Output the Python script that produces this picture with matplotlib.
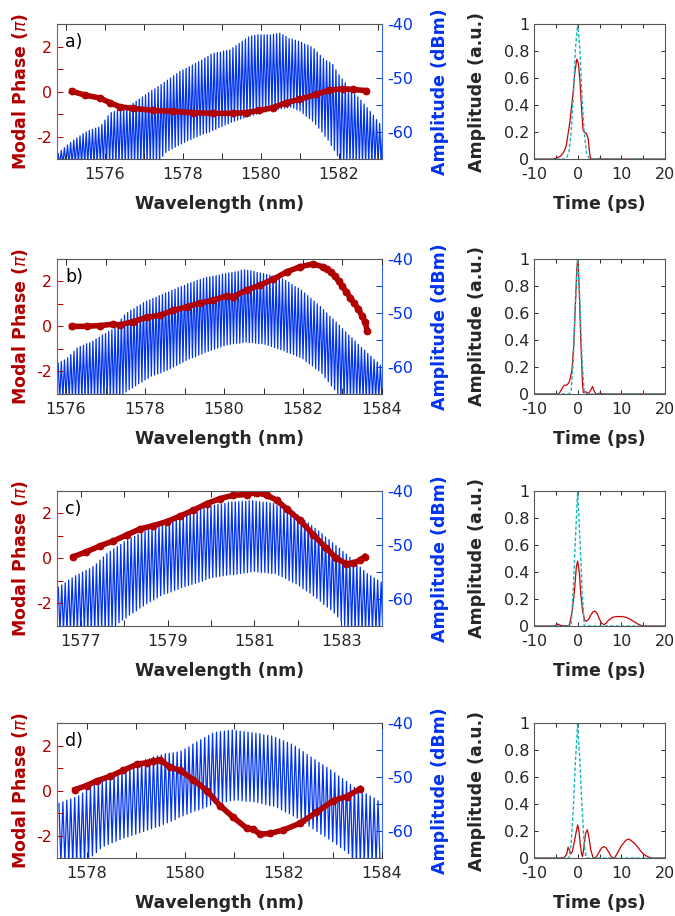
import numpy as np
import matplotlib.pyplot as plt
from matplotlib.ticker import MultipleLocator, FuncFormatter

plt.rcParams['font.family'] = 'DejaVu Sans'
plt.rcParams['axes.unicode_minus'] = False

RED = '#b00000'
BLUE = '#0033ee'
GREY = '#262626'

# spacing of the comb lines (nm)
step = 0.08

# ---- panel a) spectrum: peak / trough level of every comb line (dBm)
a_start = 1574.80
a_up = [-64.0, -63.4, -62.9, -62.4, -61.9, -61.5, -61.1, -60.7, -60.3, -60.0,
        -59.7, -59.5, -59.3, -59.1, -58.6, -57.8, -57.0, -56.4, -56.2, -56.0,
        -55.8, -55.6, -55.4, -55.0, -54.7, -54.3, -53.9, -53.5, -53.1, -52.7,
        -52.3, -52.0, -51.6, -51.2, -50.8, -50.4, -50.0, -49.6, -49.2, -48.8,
        -48.5, -48.2, -47.9, -47.6, -47.3, -47.0, -46.7, -46.3, -46.0, -45.6,
        -45.4, -45.3, -45.2, -45.0, -44.9, -44.8, -44.4, -44.0, -43.6, -43.2,
        -42.8, -42.4, -42.2, -42.1, -42.0, -42.0, -42.0, -42.0, -42.0, -41.9,
        -41.8, -41.7, -42.0, -42.3, -42.7, -42.8, -43.0, -43.2, -43.4, -43.7,
        -43.9, -44.2, -44.6, -45.2, -45.8, -46.4, -46.8, -47.1, -47.5, -48.5,
        -49.4, -50.2, -50.9, -51.6, -52.2, -52.9, -53.5, -54.1, -54.8, -55.5,
        -56.2, -56.9, -57.7, -58.4, -59.0]
a_lo = [-66, -66, -66, -66, -66, -66, -66, -66, -66, -66,
        -66, -66, -66, -66, -66, -66, -66, -66, -66, -66,
        -66, -66, -66, -66, -66, -66, -66, -66, -66, -66,
        -66, -66, -66, -64.5, -63.8, -63.4, -63.1, -62.8, -62.5, -62.2,
        -61.9, -61.6, -61.4, -61.1, -60.9, -60.6, -60.4, -60.2, -60.0, -59.7,
        -59.5, -59.2, -59.0, -58.7, -58.5, -58.2, -58.0, -57.8, -57.6, -57.4,
        -57.2, -57.1, -56.9, -56.7, -56.6, -56.4, -56.3, -56.1, -56.0, -55.9,
        -55.8, -55.7, -55.6, -55.5, -55.4, -55.6, -55.9, -56.1, -56.6, -57.1,
        -57.5, -58.0, -58.6, -59.3, -60.0, -60.8, -61.5, -62.5, -63.4, -64.4,
        -66, -66, -66, -66, -66, -66, -66, -66, -66, -66,
        -66, -66, -66, -66, -66]
a_ph_wl = [1575.15, 1575.49, 1575.87, 1576.13, 1576.38, 1576.72, 1577.23,
           1577.74, 1578.26, 1578.77, 1579.28, 1579.62, 1579.96, 1580.30,
           1580.64, 1580.98, 1581.41, 1581.75, 1582.09, 1582.35, 1582.69]
a_ph = [0.01, -0.16, -0.29, -0.50, -0.68, -0.75, -0.84, -0.88, -0.94, -0.97,
        -0.97, -0.94, -0.84, -0.72, -0.50, -0.35, -0.13, 0.06, 0.12, 0.09, 0.04]

# ---- panel b)
b_start = 1575.80
b_up = [-59.3, -59.0, -58.7, -58.3, -57.7, -57.1, -56.5, -56.2, -56.0, -55.7,
        -55.5, -55.2, -54.8, -54.5, -54.1, -53.8, -53.4, -53.1, -52.6, -51.8,
        -51.1, -50.4, -49.9, -49.5, -49.2, -48.8, -48.5, -48.1, -47.8, -47.6,
        -47.3, -47.1, -46.8, -46.6, -46.3, -46.1, -45.8, -45.6, -45.3, -45.1,
        -44.9, -44.6, -44.4, -44.2, -44.0, -43.8, -43.6, -43.4, -43.3, -43.2,
        -43.1, -43.0, -42.8, -42.7, -42.6, -42.5, -42.4, -42.3, -42.1, -42.0,
        -42.1, -42.2, -42.3, -42.5, -42.6, -42.7, -42.9, -43.0, -43.2, -43.3,
        -43.5, -43.7, -44.0, -44.3, -44.7, -45.1, -45.4, -45.8, -46.3, -46.8,
        -47.3, -47.8, -48.3, -48.8, -49.4, -50.0, -50.6, -51.1, -51.7, -52.3,
        -52.9, -53.5, -54.1, -54.6, -55.2, -55.8, -56.4, -56.9, -57.5, -58.0,
        -58.6, -59.1, -59.7]
b_lo = [-66, -66, -66, -66, -66, -66, -66, -66, -66, -66,
        -66, -66, -66, -66, -66, -66, -66, -66, -66, -66,
        -65.0, -64.6, -64.2, -63.9, -63.5, -63.1, -62.8, -62.4, -62.1, -61.7,
        -61.5, -61.3, -61.1, -60.8, -60.6, -60.3, -60.0, -59.7, -59.4, -59.1,
        -58.8, -58.5, -58.3, -58.1, -57.8, -57.6, -57.3, -57.1, -56.9, -56.7,
        -56.5, -56.3, -56.1, -55.9, -55.8, -55.7, -55.6, -55.6, -55.5, -55.4,
        -55.5, -55.5, -55.6, -55.7, -55.7, -55.8, -56.0, -56.2, -56.4, -56.6,
        -56.8, -57.0, -57.3, -57.5, -57.7, -58.0, -58.2, -58.5, -59.0, -59.4,
        -59.8, -60.3, -60.7, -61.2, -62.0, -62.7, -63.5, -64.2, -65.0,
        -66, -66, -66, -66, -66, -66, -66, -66, -66, -66, -66, -66, -66, -66]
b_ph_wl = [1576.14, 1576.52, 1576.86, 1577.20, 1577.37, 1577.70, 1578.04,
           1578.38, 1578.71, 1579.05, 1579.39, 1579.73, 1580.07, 1580.23,
           1580.57, 1580.91, 1581.25, 1581.59, 1581.92, 1582.26, 1582.50,
           1582.60, 1582.70, 1582.80, 1582.90, 1583.00, 1583.10, 1583.20,
           1583.30, 1583.40, 1583.50, 1583.58, 1583.62]
b_ph = [0.0, 0.01, 0.04, 0.10, 0.07, 0.22, 0.40, 0.50, 0.71, 0.87, 1.04, 1.17,
        1.36, 1.32, 1.61, 1.84, 2.10, 2.43, 2.65, 2.78, 2.65, 2.55, 2.42, 2.25,
        2.02, 1.78, 1.52, 1.27, 1.03, 0.78, 0.45, 0.18, -0.18]

# ---- panel c)
c_start = 1576.48
c_up = [-57.8, -57.4, -57.0, -56.5, -56.1, -55.7, -55.4, -55.0, -54.7, -54.4,
        -54.0, -53.5, -52.8, -52.2, -51.6, -51.2, -50.7, -50.3, -49.9, -49.4,
        -49.0, -48.7, -48.4, -48.0, -47.7, -47.4, -47.1, -46.8, -46.6, -46.3,
        -46.0, -45.8, -45.5, -45.2, -44.9, -44.7, -44.4, -44.1, -43.9, -43.7,
        -43.5, -43.3, -43.1, -42.9, -42.8, -42.6, -42.5, -42.4, -42.3, -42.1,
        -42.0, -42.0, -42.0, -41.9, -41.9, -41.8, -41.8, -41.9, -42.0, -42.1,
        -42.1, -42.2, -42.3, -42.6, -42.8, -43.1, -43.4, -43.6, -43.9, -44.4,
        -44.9, -45.4, -45.9, -46.4, -46.9, -47.4, -47.9, -48.5, -49.0, -49.6,
        -50.1, -50.6, -51.2, -51.7, -52.3, -52.8, -53.4, -54.1, -54.7, -55.3,
        -55.7, -56.1, -56.5, -56.9]
c_lo = [-66, -66, -66, -66, -66, -66, -66, -66, -66, -66,
        -66, -66, -66, -66, -66, -65.5, -65.0, -64.4, -63.9, -63.5,
        -63.0, -62.6, -62.2, -61.7, -61.3, -60.9, -60.5, -60.2, -59.8, -59.4,
        -59.1, -58.9, -58.7, -58.4, -58.2, -57.9, -57.7, -57.5, -57.3, -57.1,
        -56.9, -56.7, -56.4, -56.2, -56.0, -55.9, -55.8, -55.7, -55.6, -55.5,
        -55.5, -55.4, -55.3, -55.2, -55.1, -55.0, -54.9, -55.0, -55.1, -55.1,
        -55.2, -55.3, -55.3, -55.6, -55.9, -56.2, -56.6, -56.9, -57.2, -57.6,
        -58.1, -58.5, -58.9, -59.4, -59.9, -60.4, -61.0, -61.5, -62.0, -62.6,
        -63.3, -64.1, -64.9, -66, -66, -66, -66, -66, -66, -66,
        -66, -66, -66, -66]
c_ph_wl = [1576.83, 1577.13, 1577.44, 1577.75, 1578.06, 1578.36, 1578.67,
           1578.98, 1579.28, 1579.59, 1579.90, 1580.21, 1580.51, 1580.82,
           1581.05, 1581.28, 1581.51, 1581.74, 1582.05, 1582.36, 1582.66,
           1582.89, 1583.12, 1583.28, 1583.43, 1583.54]
c_ph = [0.08, 0.30, 0.56, 0.78, 1.05, 1.31, 1.46, 1.64, 1.88, 2.14, 2.44, 2.66,
        2.81, 2.84, 2.93, 2.81, 2.60, 2.21, 1.70, 1.05, 0.45, 0.0, -0.23, -0.20,
        -0.08, 0.08]

# ---- panel d)
d_start = 1577.44
d_up = [-54.9, -54.6, -54.3, -54.1, -53.8, -53.5, -53.0, -52.5, -52.0, -51.5,
        -51.1, -50.7, -50.4, -50.1, -49.8, -49.5, -49.1, -48.7, -48.3, -47.9,
        -47.5, -47.1, -46.8, -46.6, -46.3, -46.1, -45.9, -45.7, -45.6, -45.5,
        -45.4, -45.2, -44.8, -44.4, -43.9, -43.5, -43.1, -42.7, -42.3, -41.9,
        -41.7, -41.6, -41.5, -41.4, -41.3, -41.4, -41.5, -41.6, -41.7, -41.8,
        -41.9, -42.0, -42.2, -42.3, -42.4, -42.7, -43.0, -43.3, -43.6, -43.9,
        -44.3, -44.8, -45.3, -45.8, -46.3, -46.8, -47.3, -47.7, -48.2, -48.7,
        -49.2, -49.8, -50.3, -50.8, -51.4, -51.9, -52.3, -52.7, -53.1, -53.5,
        -53.9, -54.4]
d_lo = [-66, -66, -66, -66, -66, -66, -66, -65.3, -64.6, -64.0,
        -63.3, -62.8, -62.5, -62.2, -61.9, -61.6, -61.3, -61.1, -60.8, -60.6,
        -60.3, -60.1, -59.8, -59.6, -59.3, -59.1, -58.8, -58.5, -58.2, -57.9,
        -57.5, -57.2, -56.9, -56.6, -56.3, -56.1, -55.8, -55.5, -55.2, -54.9,
        -54.8, -54.7, -54.6, -54.4, -54.3, -54.3, -54.4, -54.5, -54.5, -54.6,
        -54.7, -54.9, -55.1, -55.3, -55.4, -55.7, -56.1, -56.5, -56.8, -57.2,
        -57.6, -58.1, -58.6, -59.1, -59.6, -60.1, -60.6, -61.0, -61.5, -62.0,
        -62.5, -63.1, -63.6, -64.2, -66, -66, -66, -66, -66, -66,
        -66, -66]
d_ph_wl = [1577.77, 1578.00, 1578.21, 1578.48, 1578.75, 1579.02, 1579.22,
           1579.36, 1579.49, 1579.69, 1579.90, 1580.17, 1580.44, 1580.71,
           1580.98, 1581.25, 1581.39, 1581.52, 1581.72, 1581.99, 1582.33,
           1582.67, 1583.01, 1583.28, 1583.55]
d_ph = [0.04, 0.22, 0.43, 0.63, 0.90, 1.16, 1.24, 1.30, 1.37, 1.04, 0.90, 0.48,
        0.0, -0.67, -1.19, -1.67, -1.72, -1.94, -1.91, -1.76, -1.46, -0.97,
        -0.45, -0.27, 0.07]

# ---- time traces: measured (red) and transform limited (cyan)
a_t = [-10, -6, -5, -4, -3.2, -2.6, -1.8, -1.05, -0.65, -0.2, 0.15, 0.5, 0.9,
       1.25, 1.5, 2.0, 2.4, 2.8, 3.0, 4.5, 5, 5.5, 20]
a_red = [0, 0, 0.005, 0.02, 0.05, 0.1, 0.27, 0.49, 0.64, 0.74, 0.71, 0.59,
         0.37, 0.21, 0.2, 0.19, 0.15, 0.03, 0, 0, 0.005, 0, 0]
a_tl_t = [-10, -3, -2.5, -2, -1.5, -1, -0.5, 0, 0.5, 1, 1.5, 2, 2.5, 3, 20]
a_tl = [0, 0, 0.01, 0.05, 0.2, 0.45, 0.82, 1.0, 0.82, 0.45, 0.2, 0.05, 0.01, 0, 0]

b_t = [-10, -5, -4.2, -3.6, -3.1, -2.5, -2.1, -1.8, -1.3, -0.9, -0.5, -0.2, 0,
       0.15, 0.35, 0.7, 1.1, 1.3, 1.6, 2.0, 2.5, 3.0, 3.4, 3.8, 4.2, 5, 6, 20]
b_red = [0, 0, 0.005, 0.04, 0.065, 0.065, 0.08, 0.1, 0.18, 0.36, 0.68, 0.92,
         1.0, 0.95, 0.78, 0.41, 0.08, 0.01, 0.015, 0.015, 0, 0.03, 0.055, 0.02,
         0, 0.005, 0, 0]
b_tl_t = [-10, -2, -1.5, -1, -0.5, 0, 0.5, 1, 1.5, 2, 20]
b_tl = [0, 0, 0.02, 0.25, 0.7, 1.0, 0.7, 0.25, 0.02, 0, 0]

c_t = [-10, -5.2, -4.5, -4, -2, -1.8, -1.2, -0.65, -0.3, 0, 0.4, 0.7, 1.1, 1.6,
       2, 2.5, 3, 3.5, 4, 4.5, 5, 5.5, 6, 6.5, 7, 8, 9, 10, 11, 12, 13, 14, 15,
       20]
c_red = [0, 0, 0.015, 0.005, 0, 0.02, 0.12, 0.29, 0.44, 0.48, 0.39, 0.24, 0.12,
         0.04, 0.035, 0.05, 0.08, 0.105, 0.11, 0.09, 0.05, 0.02, 0.01, 0.02,
         0.04, 0.065, 0.07, 0.07, 0.065, 0.05, 0.03, 0.01, 0, 0]
c_tl_t = [-10, -1.5, -1, -0.5, 0, 0.5, 1, 1.5, 20]
c_tl = [0, 0, 0.28, 0.65, 1.0, 0.65, 0.28, 0, 0]

d_t = [-10, -4, -3, -2.5, -2.2, -1.9, -1.6, -1.2, -0.7, -0.3, 0, 0.3, 0.6, 0.9,
       1.1, 1.4, 1.8, 2.2, 2.6, 3, 3.5, 4, 4.5, 5, 5.5, 6, 6.5, 7, 7.5, 8, 8.5,
       9, 10, 11, 11.5, 12, 13, 14, 15, 16, 17, 20]
d_red = [0, 0, 0.005, 0.03, 0.08, 0.06, 0.03, 0.05, 0.13, 0.2, 0.245, 0.2, 0.1,
         0.03, 0.01, 0.07, 0.18, 0.21, 0.15, 0.06, 0.005, 0, 0.02, 0.05, 0.075,
         0.085, 0.075, 0.05, 0.02, 0, 0.005, 0.03, 0.09, 0.13, 0.14, 0.135,
         0.11, 0.07, 0.03, 0.01, 0, 0]
d_tl_t = [-10, -2, -1.5, -1, -0.5, 0, 0.5, 1, 1.5, 2, 20]
d_tl = [0, 0, 0.1, 0.37, 0.72, 1.0, 0.72, 0.37, 0.1, 0, 0]

letters = ['a)', 'b)', 'c)', 'd)']
xlims = [(1574.77, 1583.1), (1575.77, 1584.0), (1576.45, 1583.94), (1577.4, 1584.0)]
xmajor = [[1576, 1578, 1580, 1582], [1576, 1578, 1580, 1582, 1584],
          [1577, 1579, 1581, 1583], [1578, 1580, 1582, 1584]]

panels = [
    (a_start, a_up, a_lo, a_ph_wl, a_ph, a_t, a_red, a_tl_t, a_tl),
    (b_start, b_up, b_lo, b_ph_wl, b_ph, b_t, b_red, b_tl_t, b_tl),
    (c_start, c_up, c_lo, c_ph_wl, c_ph, c_t, c_red, c_tl_t, c_tl),
    (d_start, d_up, d_lo, d_ph_wl, d_ph, d_t, d_red, d_tl_t, d_tl),
]

fig = plt.figure(figsize=(6.75, 9.16), dpi=100)
bottoms = [0.8264, 0.5699, 0.3166, 0.0633]
tick_fs = 11.5
lab_fs = 12.5

for k, (start, up, lo, ph_wl, ph, t, red, tl_t, tl) in enumerate(panels):
    ax = fig.add_axes([0.0844, bottoms[k], 0.4815, 0.1474])
    ax2 = ax.twinx()

    # comb spectrum on the right axis: trace goes peak -> trough -> next peak
    modes = start + step * np.arange(len(up))
    xs = np.column_stack([modes, modes + step / 2]).ravel()
    ys = np.column_stack([up, lo]).ravel()
    ax2.plot(xs, ys, color=BLUE, lw=0.9)
    ax2.set_ylim(-65, -40)
    ax2.yaxis.set_major_locator(MultipleLocator(10))
    ax2.yaxis.set_minor_locator(MultipleLocator(5))
    ax2.tick_params(axis='y', which='both', direction='in', colors=BLUE,
                    labelsize=tick_fs, length=4, width=0.7)
    ax2.set_ylabel('Amplitude (dBm)', color=BLUE, fontsize=lab_fs,
                   fontweight='bold')
    ax2.yaxis.set_label_coords(1.15, 0.5)
    for s in ['left', 'top', 'bottom']:
        ax2.spines[s].set_visible(False)
    ax2.spines['right'].set_color('#3366ff')
    ax2.spines['right'].set_linewidth(0.8)

    # modal phase on the left axis, drawn above the comb
    ax.set_zorder(ax2.get_zorder() + 1)
    ax.patch.set_visible(False)
    ax.plot(ph_wl, ph, '-o', color=RED, lw=4.0, ms=4.6, mec=RED)
    ax.set_ylim(-3, 3)
    ax.set_xlim(*xlims[k])
    ax.set_xticks(xmajor[k])
    ax.xaxis.set_minor_locator(MultipleLocator(1))
    ax.yaxis.set_major_locator(MultipleLocator(2))
    ax.yaxis.set_minor_locator(MultipleLocator(1))
    ax.tick_params(axis='y', which='both', direction='in', colors=RED,
                   labelsize=tick_fs, length=4, width=0.7)
    ax.tick_params(axis='x', which='both', direction='in', top=True,
                   colors=GREY, labelsize=tick_fs, length=4, width=0.7, pad=6)
    ax.spines['right'].set_visible(False)
    ax.spines['left'].set_color('#cc4444')
    for s in ['top', 'bottom']:
        ax.spines[s].set_color('#555555')
    for s in ax.spines.values():
        s.set_linewidth(0.8)
    ax.set_ylabel(r'Modal Phase ($\pi$)', color=RED, fontsize=lab_fs,
                  fontweight='bold')
    ax.yaxis.set_label_coords(-0.083, 0.5)
    ax.set_xlabel('Wavelength (nm)', color=GREY, fontsize=lab_fs,
                  fontweight='bold')
    ax.xaxis.set_label_coords(0.5, -0.27)
    ax.text(0.025, 0.935, letters[k], transform=ax.transAxes, fontsize=12.5,
            va='top', ha='left', color='black')

    # time domain
    axt = fig.add_axes([0.7911, bottoms[k], 0.1941, 0.1474])
    axt.plot(t, red, color='#cc0000', lw=0.9)
    axt.plot(tl_t, tl, color='#10b8c0', lw=1.0, dashes=(2.5, 1.5))
    axt.set_xlim(-10, 20)
    axt.set_ylim(0, 1)
    axt.xaxis.set_major_locator(MultipleLocator(10))
    axt.xaxis.set_minor_locator(MultipleLocator(5))
    axt.yaxis.set_major_locator(MultipleLocator(0.2))
    axt.yaxis.set_major_formatter(FuncFormatter(lambda v, p: '%g' % round(v, 2)))
    axt.tick_params(which='both', direction='in', top=True, right=True,
                    colors=GREY, labelsize=tick_fs, length=3, width=0.7)
    axt.tick_params(axis='x', pad=6)
    for s in axt.spines.values():
        s.set_color('#555555')
        s.set_linewidth(0.8)
    axt.set_xlabel('Time (ps)', color=GREY, fontsize=lab_fs, fontweight='bold')
    axt.xaxis.set_label_coords(0.5, -0.27)
    axt.set_ylabel('Amplitude (a.u.)', color=GREY, fontsize=lab_fs,
                   fontweight='bold')
    axt.yaxis.set_label_coords(-0.37, 0.5)

fig.savefig('out.png', dpi=100)
